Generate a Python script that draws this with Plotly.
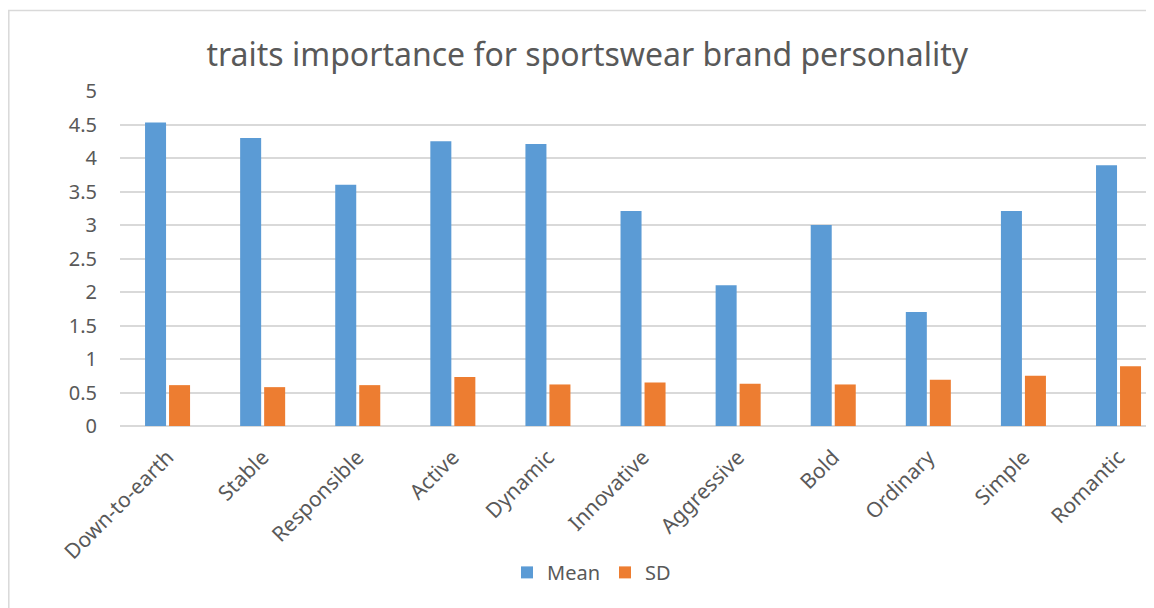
import plotly.graph_objects as go

categories = ["Down-to-earth", "Stable", "Responsible", "Active", "Dynamic",
              "Innovative", "Aggressive", "Bold", "Ordinary", "Simple", "Romantic"]
mean_vals = [4.53, 4.30, 3.60, 4.25, 4.21, 3.21, 2.10, 3.00, 1.70, 3.21, 3.89]
sd_vals = [0.61, 0.58, 0.61, 0.73, 0.62, 0.65, 0.63, 0.62, 0.69, 0.75, 0.89]
y_ticks = [0, 0.5, 1, 1.5, 2, 2.5, 3, 3.5, 4, 4.5, 5]
y_tick_text = ["0", "0.5", "1", "1.5", "2", "2.5", "3", "3.5", "4", "4.5", "5"]

FONT = "Noto Sans"
GREY = "#595959"

fig = go.Figure()
fig.add_trace(go.Bar(name="Mean", x=categories, y=mean_vals, marker_color="#5b9bd5",
                     marker_line_width=0))
fig.add_trace(go.Bar(name="SD", x=categories, y=sd_vals, marker_color="#ed7d31",
                     marker_line_width=0))

# page body has an 8px margin; the reference chart is cropped at the right edge
fig.update_layout(
    width=1154, height=608,
    paper_bgcolor="white", plot_bgcolor="white",
    margin=dict(l=112, r=8, t=83, b=190),
    barmode="group", bargap=0.495, bargroupgap=0.125,
    title=dict(text="traits importance for sportswear brand personality",
               x=0.502, xanchor="center", y=0.923, yanchor="middle",
               font=dict(family=FONT, size=32, color=GREY)),
    font=dict(family=FONT, color=GREY, size=18),
    legend=dict(orientation="h", x=0.456, xanchor="center", y=-0.437, yanchor="middle",
                font=dict(family=FONT, size=20, color=GREY), itemwidth=30),
    showlegend=True,
)
fig.update_yaxes(range=[0, 5], tickvals=y_ticks, ticktext=y_tick_text,
                 showgrid=True, gridcolor="#d9d9d9", gridwidth=1.5,
                 zeroline=True, zerolinecolor="#d9d9d9", zerolinewidth=1.5,
                 showline=False, ticks="", ticklabelstandoff=22,
                 tickfont=dict(family=FONT, size=20, color=GREY))
fig.update_xaxes(range=[-0.5, 10.373], tickangle=-45, showline=False, ticks="",
                 ticklabelstandoff=14,
                 tickfont=dict(family=FONT, size=21, color=GREY))

fig.add_shape(type="rect", xref="paper", yref="paper",
              x0=(0.8 - 112) / 1034, x1=(1190 - 112) / 1034,
              y0=(418 - 606) / 335, y1=(418 - 2.5) / 335,
              line=dict(color="#d9d9d9", width=1.5), fillcolor="rgba(0,0,0,0)",
              layer="below")

fig.write_html("out.html")
